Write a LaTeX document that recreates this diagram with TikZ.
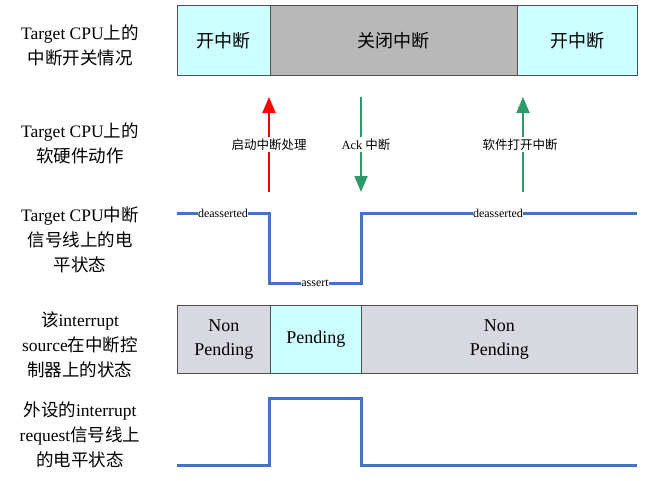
\documentclass[tikz,border=0pt]{standalone}
\usepackage{fontspec}
\setmainfont{Liberation Serif}
\newfontfamily\cjk{Noto Sans CJK SC}
\usetikzlibrary{arrows.meta}
\definecolor{cyanfill}{HTML}{CCFFFF}
\definecolor{greybar}{HTML}{B8B8B8}
\definecolor{greylight}{HTML}{D8D8E0}
\definecolor{sigblue}{HTML}{4472C4}
\definecolor{arrgreen}{HTML}{2E9A6A}
\definecolor{boxline}{HTML}{505050}
\begin{document}
\begin{tikzpicture}[x=1pt,y=-1pt,
  rowlabel/.style={align=center,font=\fontsize{17.5}{25}\selectfont,inner sep=0pt},
  seg/.style={draw=boxline,line width=0.8pt,anchor=north west,inner sep=0pt,minimum height=70pt,font=\fontsize{18}{24}\selectfont,align=center},
  pseg/.style={draw=boxline,line width=0.8pt,anchor=north west,inner sep=0pt,minimum height=68pt,font=\fontsize{18}{24}\selectfont,align=center},
  sig/.style={draw=sigblue,line width=3pt,line join=miter},
  siglabel/.style={fill=white,inner sep=0.5pt,font=\fontsize{12}{12}\selectfont},
  arrlabel/.style={fill=white,inner sep=2pt,font=\fontsize{12.5}{14}\selectfont},
  uparrow/.style={line width=2pt,-{Triangle[width=13pt,length=16pt]}}
]
\useasboundingbox (0,0) rectangle (645,480);

% left labels
\node[rowlabel] (l1) at (80,45) {Target CPU{\cjk 上的}\\{\cjk 中断开关情况}};
\node[rowlabel] (l2) at (80,143) {Target CPU{\cjk 上的}\\{\cjk 软硬件动作}};
\node[rowlabel] (l3) at (80,240) {Target CPU{\cjk 中断}\\{\cjk 信号线上的电}\\{\cjk 平状态}};
\node[rowlabel] (l4) at (80,345) {{\cjk 该}interrupt\\source{\cjk 在中断控}\\{\cjk 制器上的状态}};
\node[rowlabel] (l5) at (80,435) {{\cjk 外设的}interrupt\\request{\cjk 信号线上}\\{\cjk 的电平状态}};

% top bar
\node[seg,fill=cyanfill,minimum width=93pt] (on1) at (177,5) {\cjk 开中断};
\node[seg,fill=greybar,minimum width=247pt] (off) at (270,5) {\cjk 关闭中断};
\node[seg,fill=cyanfill,minimum width=120pt] (on2) at (517,5) {\cjk 开中断};

% arrows
\coordinate (r1) at (269,192); \coordinate (r2) at (269,97);
\coordinate (g1) at (361,97); \coordinate (g2) at (361,192);
\coordinate (h1) at (523,192); \coordinate (h2) at (523,97);
\draw[uparrow,draw=red,fill=red] (r1) -- (r2) node[pos=0.5,arrlabel,text=black] (a1) {\cjk 启动中断处理};
\draw[uparrow,draw=arrgreen,fill=arrgreen] (g1) -- (g2) node[pos=0.5,arrlabel,text=black,xshift=5pt] (a2) {Ack {\cjk 中断}};
\draw[uparrow,draw=arrgreen,fill=arrgreen] (h1) -- (h2) node[pos=0.5,arrlabel,text=black,xshift=-3pt] (a3) {\cjk 软件打开中断};

% CPU interrupt line
\coordinate (c0) at (177,213); \coordinate (c1) at (269,213);
\coordinate (c2) at (269,283); \coordinate (c3) at (361,283);
\coordinate (c4) at (361,213); \coordinate (c5) at (637,213);
\draw[sig] (c0) -- (c1) -- (c2) -- (c3) -- (c4) -- (c5);
\node[siglabel] (d1) at (223,213) {deasserted};
\node[siglabel] (d2) at (315,283) {assert};
\node[siglabel] (d3) at (498,213) {deasserted};

% pending bar
\node[pseg,fill=greylight,minimum width=93pt] (np1) at (177,305) {Non\\Pending};
\node[pseg,fill=cyanfill,minimum width=91pt] (pd) at (270,305) {Pending};
\node[pseg,fill=greylight,minimum width=276pt] (np2) at (361,305) {Non\\Pending};

% peripheral request line
\coordinate (p0) at (177,465); \coordinate (p1) at (269,465);
\coordinate (p2) at (269,398); \coordinate (p3) at (361,398);
\coordinate (p4) at (361,465); \coordinate (p5) at (637,465);
\draw[sig] (p0) -- (p1) -- (p2) -- (p3) -- (p4) -- (p5);
\end{tikzpicture}
\end{document}
